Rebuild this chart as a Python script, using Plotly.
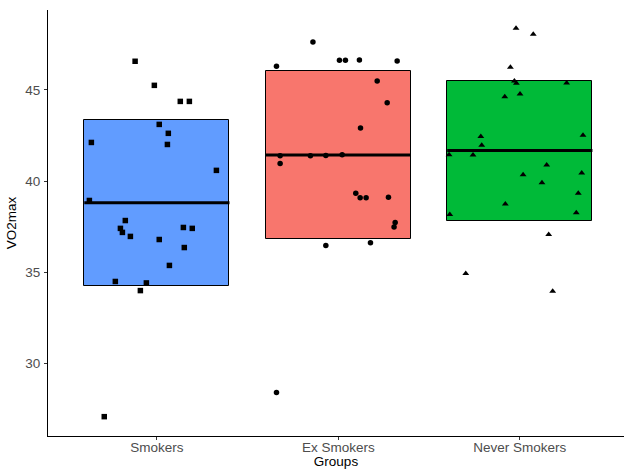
import numpy as np
import plotly.graph_objects as go

# Groups and their fill colours
groups = ["Smokers", "Ex Smokers", "Never Smokers"]
fills = ["#619CFF", "#F8766D", "#00BA38"]
symbols = ["square", "circle", "triangle-up"]

# VO2max measurements per group
smokers = [46.57, 45.25, 44.37, 44.37, 43.11, 42.62, 42.12, 42.01, 40.59, 38.94,
           37.84, 37.41, 37.19, 36.97, 37.46, 37.41, 36.80, 36.36, 35.38, 34.50,
           34.42, 34.00, 27.09]
ex_smokers = [46.29, 47.62, 46.62, 46.62, 46.64, 46.58, 45.49, 44.30, 42.91, 41.39,
              41.39, 41.41, 41.44, 40.97, 39.34, 39.09, 39.09, 39.12, 37.73, 37.48,
              36.47, 36.62, 28.41]
never_smokers = [48.38, 48.05, 46.24, 45.49, 45.36, 45.38, 44.62, 44.77, 42.45, 42.52,
                 41.97, 41.44, 41.43, 40.88, 40.35, 40.44, 39.91, 39.33, 38.75, 38.17,
                 38.26, 37.08, 34.94, 33.97]

# Horizontal jitter of each point (in group units)
smokers_jit = [-0.120, -0.014, 0.129, 0.179, 0.013, 0.063, -0.361, 0.058, 0.328, -0.372,
               -0.174, -0.201, -0.190, -0.146, 0.146, 0.195, 0.013, 0.151, 0.069, -0.229,
               -0.058, -0.091, -0.290]
ex_smokers_jit = [-0.341, -0.140, 0.006, 0.039, 0.116, 0.324, 0.214, 0.269, 0.122, -0.321,
                  -0.154, -0.069, 0.021, -0.321, 0.096, 0.120, 0.153, 0.276, 0.313, 0.307,
                  -0.069, 0.177, -0.341]
never_smokers_jit = [-0.021, 0.074, -0.052, -0.030, -0.019, 0.258, -0.083, 0.001, -0.215, 0.348,
                     -0.210, -0.390, -0.258, 0.148, 0.018, 0.341, 0.122, 0.322, -0.080, -0.386,
                     0.311, 0.159, -0.298, 0.181]

values = [smokers, ex_smokers, never_smokers]
jitters = [smokers_jit, ex_smokers_jit, never_smokers_jit]
y_ticks = [30, 35, 40, 45]

means = [float(np.mean(v)) for v in values]
sds = [float(np.std(v, ddof=1)) for v in values]
pos = [1, 2, 3]

fig = go.Figure()

# Mean +/- SD boxes
fig.add_trace(go.Bar(
    x=pos, y=[2 * s for s in sds], base=[m - s for m, s in zip(means, sds)],
    width=0.8, marker=dict(color=fills, line=dict(color="black", width=1)),
    showlegend=False, hoverinfo="skip",
))

# Mean lines
for p, m in zip(pos, means):
    fig.add_trace(go.Scatter(
        x=[p - 0.4, p + 0.4], y=[m, m], mode="lines",
        line=dict(color="black", width=3), showlegend=False, hoverinfo="skip",
    ))

# Jittered observations
for p, v, j, sym in zip(pos, values, jitters, symbols):
    size = 6 if sym == "triangle-up" else 5.5
    fig.add_trace(go.Scatter(
        x=[p + d for d in j], y=v, mode="markers",
        marker=dict(symbol=sym, color="black", size=size, line=dict(width=0)),
        showlegend=False,
    ))

fig.update_layout(
    width=624, height=469,
    margin=dict(l=48, r=0, t=10, b=33),
    plot_bgcolor="white", paper_bgcolor="white",
    font=dict(family="Liberation Sans, Arial, sans-serif", size=13.5, color="black"),
    bargap=0,
)
fig.update_xaxes(
    range=[0.4, 3.574], tickvals=pos, ticktext=groups,
    showline=True, linecolor="black", linewidth=1,
    ticks="outside", ticklen=3, tickcolor="#333333", tickwidth=1,
    tickfont=dict(size=13.5, color="#4D4D4D"), ticklabelstandoff=-4,
    showgrid=False, zeroline=False, automargin=False,
    title=dict(text="Groups", font=dict(size=13.5, color="black"), standoff=11),
)
fig.update_yaxes(
    range=[26.03, 49.38], tickvals=y_ticks,
    showline=True, linecolor="black", linewidth=1,
    ticks="outside", ticklen=3, tickcolor="#333333", tickwidth=1,
    tickfont=dict(size=13.5, color="#4D4D4D"), ticklabelstandoff=1,
    showgrid=False, zeroline=False, automargin=False,
    title=dict(text="VO2max", font=dict(size=13.5, color="black"), standoff=5),
)

fig.write_html("out.html")
